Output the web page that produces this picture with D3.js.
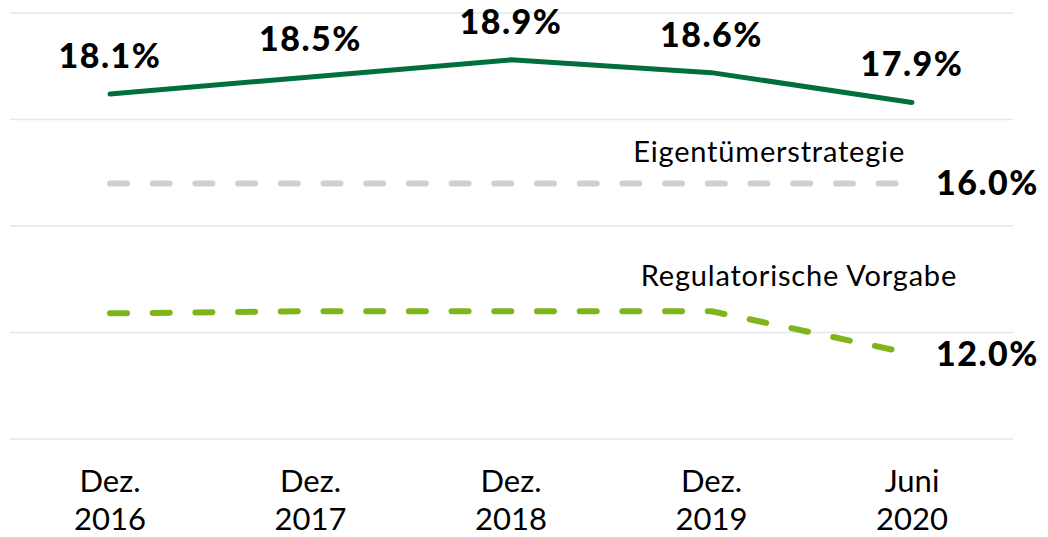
<!doctype html>
<html>
  <head>
    <meta charset="utf-8" />
    <title>Quote</title>
    <script type="text/javascript" src="https://cdnjs.cloudflare.com/ajax/libs/d3/7.8.5/d3.min.js"></script>
    <style>
      body { margin:0; background:#fff; font-family:Lato, sans-serif; }
      svg { display:block; }
    </style>
  </head>
  <body>
    <div id="chart"></div>
    <script type="text/javascript">
(function() {

/*chart data*/
var periods = ["Dez.|2016", "Dez.|2017", "Dez.|2018", "Dez.|2019", "Juni|2020"];
var quote = [18.1, 18.5, 18.9, 18.6, 17.9];
var eigentuemer = [16.0, 16.0, 16.0, 16.0, 16.0];
var regulatorisch = [12.95, 13.0, 13.0, 13.0, 12.0];
var gridTicks = [10, 12.5, 15, 17.5, 20];

var W = 1048, H = 537;

var svg = d3.select("#chart").append("svg")
  .attr("width", W).attr("height", H);

var x = d3.scalePoint().domain(periods).range([110, 912]);
var y = d3.scaleLinear().domain([10, 20]).range([439, 13]);

/*gridlines*/
svg.append("g").selectAll("line").data(gridTicks).join("line")
  .attr("x1", 10).attr("x2", 1013)
  .attr("y1", function(d) { return y(d); })
  .attr("y2", function(d) { return y(d); })
  .attr("stroke", "#e6e6e6").attr("stroke-width", 1.6);

var line = d3.line()
  .x(function(d, i) { return x(periods[i]); })
  .y(function(d) { return y(d); });

/*eigentuemerstrategie*/
svg.append("path").datum(eigentuemer)
  .attr("d", line).attr("fill", "none")
  .attr("stroke", "#d3d0cb").attr("stroke-width", 6)
  .attr("stroke-linecap", "round")
  .attr("stroke-dasharray", "17,25.7");

/*regulatorische vorgabe*/
svg.append("path").datum(regulatorisch)
  .attr("d", line).attr("fill", "none")
  .attr("stroke", "#7db51b").attr("stroke-width", 6)
  .attr("stroke-linecap", "round")
  .attr("stroke-dasharray", "17,25.7");

/*main line*/
svg.append("path").datum(quote)
  .attr("d", line).attr("fill", "none")
  .attr("stroke", "#006f3c").attr("stroke-width", 5)
  .attr("stroke-linecap", "round");

/*value labels*/
svg.append("g").selectAll("text").data(quote).join("text")
  .attr("x", function(d, i) { return x(periods[i]); })
  .attr("y", function(d) { return y(d) - 26; })
  .attr("text-anchor", "middle")
  .attr("font-size", 34).attr("font-weight", 900)
  .attr("letter-spacing", 1.5)
  .attr("fill", "#000")
  .text(function(d) { return d.toFixed(1) + "%"; });

/*end labels of target lines*/
var last = periods.length - 1;
svg.append("text")
  .attr("x", 936).attr("y", y(eigentuemer[last]) + 12)
  .attr("font-size", 34).attr("font-weight", 900)
  .attr("letter-spacing", 1.5)
  .text(eigentuemer[last].toFixed(1) + "%");
svg.append("text")
  .attr("x", 936).attr("y", y(regulatorisch[last]) + 12)
  .attr("font-size", 34).attr("font-weight", 900)
  .attr("letter-spacing", 1.5)
  .text(regulatorisch[last].toFixed(1) + "%");

svg.append("text")
  .attr("x", 905).attr("y", 162)
  .attr("text-anchor", "end")
  .attr("font-size", 29).attr("letter-spacing", 0.8)
  .text("Eigentümerstrategie");
svg.append("text")
  .attr("x", 957).attr("y", 286)
  .attr("text-anchor", "end")
  .attr("font-size", 29).attr("letter-spacing", 0.8)
  .text("Regulatorische Vorgabe");

/*x axis labels*/
var xl = svg.append("g").selectAll("text").data(periods).join("text")
  .attr("x", function(d) { return x(d); })
  .attr("text-anchor", "middle")
  .attr("font-size", 31);
xl.append("tspan").attr("x", function(d) { return x(d); }).attr("y", 492)
  .text(function(d) { return d.split("|")[0]; });
xl.append("tspan").attr("x", function(d) { return x(d); }).attr("y", 530)
  .text(function(d) { return d.split("|")[1]; });

})();
    </script>
  </body>
</html>
